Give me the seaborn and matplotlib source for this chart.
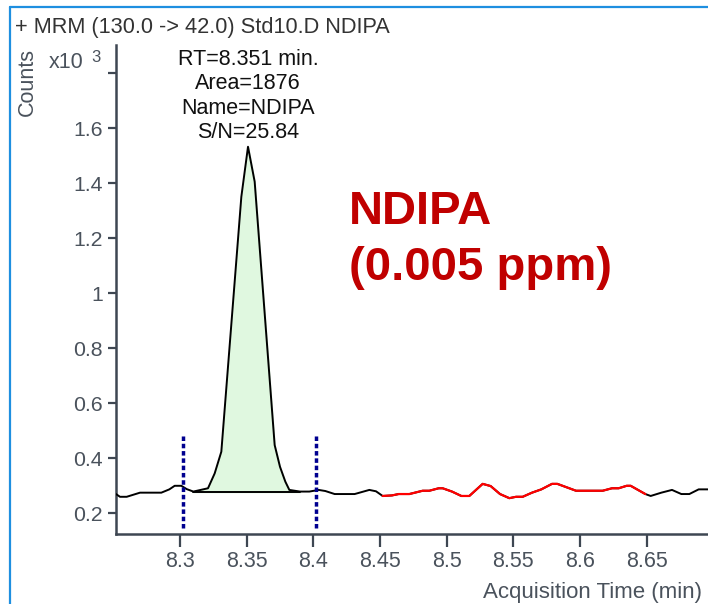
import numpy as np
import pandas as pd
import seaborn as sns
import matplotlib
matplotlib.use("Agg")
import matplotlib.pyplot as plt
from matplotlib.lines import Line2D

# ---- chromatogram data (time in min, counts in x10^3) ----
time_min = [
    8.252, 8.255, 8.260, 8.270, 8.286, 8.292, 8.296, 8.301, 8.305, 8.310,
    8.321, 8.326, 8.331, 8.346, 8.351, 8.356, 8.371, 8.375, 8.379, 8.382,
    8.390, 8.397, 8.404, 8.409, 8.416, 8.431, 8.442, 8.447, 8.452, 8.459,
    8.464, 8.472, 8.482, 8.487, 8.494, 8.497, 8.504, 8.511, 8.517, 8.527,
    8.533, 8.540, 8.547, 8.552, 8.557, 8.564, 8.571, 8.579, 8.583, 8.597,
    8.617, 8.624, 8.629, 8.635, 8.638, 8.649, 8.653, 8.661, 8.669, 8.676,
    8.682, 8.689, 8.697,
]
counts_k = [
    0.270, 0.260, 0.260, 0.275, 0.275, 0.287, 0.300, 0.300, 0.288, 0.279,
    0.291, 0.345, 0.424, 1.351, 1.533, 1.406, 0.448, 0.369, 0.315, 0.285,
    0.279, 0.279, 0.285, 0.281, 0.270, 0.270, 0.285, 0.280, 0.263, 0.265,
    0.270, 0.270, 0.282, 0.282, 0.291, 0.291, 0.279, 0.263, 0.263, 0.307,
    0.299, 0.270, 0.255, 0.260, 0.260, 0.275, 0.287, 0.307, 0.307, 0.282,
    0.282, 0.291, 0.291, 0.300, 0.300, 0.270, 0.263, 0.275, 0.285, 0.270,
    0.270, 0.287, 0.287,
]

# integration / noise settings
peak_start, peak_end = 8.310, 8.390
peak_baseline = 0.277
window_lines = [8.3025, 8.4017]
noise_start, noise_end = 8.452, 8.649

x_ticks = [8.3, 8.35, 8.4, 8.45, 8.5, 8.55, 8.6, 8.65]
x_tick_labels = ["8.3", "8.35", "8.4", "8.45", "8.5", "8.55", "8.6", "8.65"]
y_ticks = [0.2, 0.4, 0.6, 0.8, 1.0, 1.2, 1.4, 1.6, 1.8]
y_tick_labels = ["0.2", "0.4", "0.6", "0.8", "1", "1.2", "1.4", "1.6", ""]

peak_info = ["RT=8.351 min.", "Area=1876", "Name=NDIPA", "S/N=25.84"]
title_text = "+ MRM (130.0 -> 42.0) Std10.D NDIPA"
compound_lines = ["NDIPA", "(0.005 ppm)"]

df = pd.DataFrame({"time": time_min, "counts": counts_k})

sns.set_style("ticks")
plt.rcParams["font.family"] = ["Liberation Sans", "DejaVu Sans"]

W, H = 708, 604
fig = plt.figure(figsize=(W / 100, H / 100), dpi=100)


def fx(px):
    return px / W


def fy(py):
    return 1 - py / H


ax = fig.add_axes([fx(116), fy(534.3), fx(708) - fx(116), fy(45) - fy(534.3)])

axis_col = "#3e4752"
label_col = "#4a525c"

# integrated peak area
pk = df[(df.time >= peak_start) & (df.time <= peak_end)]
ax.fill_between(pk.time, pk.counts, peak_baseline, color="#e0f8e0", zorder=1)
ax.plot([peak_start, peak_end], [peak_baseline, peak_baseline],
        color="black", lw=1.4, zorder=3)

# full trace in black, noise region in red
sns.lineplot(data=df, x="time", y="counts", color="black", linewidth=1.4,
             sort=False, estimator=None, ax=ax, zorder=3)
noise = df[(df.time >= noise_start) & (df.time <= noise_end)]
sns.lineplot(data=noise, x="time", y="counts", color="#ff0000", linewidth=1.6,
             sort=False, estimator=None, ax=ax, zorder=4)

# integration window markers
ax.vlines(window_lines, 0.145, 0.485, colors="#000090", linewidth=2.5,
          linestyles=(0, (1.3, 0.8)), zorder=5)

ax.set_xlim(8.2520, 8.6960)
ax.set_ylim(0.1236, 1.903)
ax.set_xticks(x_ticks)
ax.set_xticklabels(x_tick_labels)
ax.set_yticks(y_ticks)
ax.set_yticklabels(y_tick_labels)
ax.set_xlabel("")
ax.set_ylabel("")

sns.despine(ax=ax, top=True, right=True)
for s in ("left", "bottom"):
    ax.spines[s].set_color(axis_col)
    ax.spines[s].set_linewidth(1.8)
ax.tick_params(axis="x", length=9, width=1.6, color=axis_col, pad=3,
               labelsize=15.5, labelcolor=label_col)
ax.tick_params(axis="y", length=5.5, width=1.6, color=axis_col, pad=4,
               labelsize=15.3, labelcolor=label_col)

# peak annotation
apex_t = 8.351
for i, line in enumerate(peak_info):
    fig.text(ax.transData.transform((apex_t, 0))[0] / W, fy(65 + 24.4 * i), line,
             ha="center", va="baseline", fontsize=15.5, color="#111111")

# compound label
for i, line in enumerate(compound_lines):
    fig.text(fx(349), fy(224 + 56 * i), line, ha="left", va="baseline",
             fontsize=34, fontweight="bold", color="#c00000")

# header, axis captions
fig.text(fx(15), fy(33), title_text, ha="left", va="baseline",
         fontsize=15.7, color="#333333")
fig.text(fx(27), fy(82), "Counts", ha="center", va="center", rotation=90,
         fontsize=15.5, color=label_col)
fig.text(fx(49), fy(68), "x10", ha="left", va="baseline", fontsize=15.5,
         color=label_col)
fig.text(fx(91), fy(62), "3", ha="left", va="baseline", fontsize=12,
         color=label_col)
fig.text(fx(702), fy(598), "Acquisition Time (min)", ha="right",
         va="baseline", fontsize=16, color=label_col)

# window frame
frame_col = "#1e8fe0"
fig.add_artist(Line2D([fx(10), fx(10)], [0, fy(7)], color=frame_col, lw=1.6))
fig.add_artist(Line2D([fx(10), 1], [fy(7), fy(7)], color=frame_col, lw=1.6))

fig.savefig("out.png", dpi=100)
